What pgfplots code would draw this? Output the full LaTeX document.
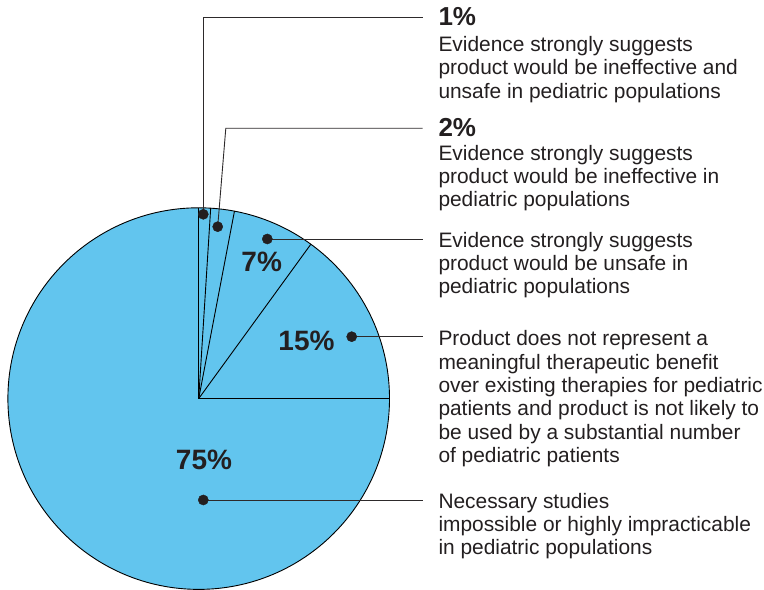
\documentclass[border=0pt]{standalone}
\usepackage{pgfplots}
\pgfplotsset{compat=1.18}
\usepackage{fontspec}
\setmainfont{Liberation Sans}
\definecolor{pieblue}{RGB}{98,197,238}
\definecolor{txt}{RGB}{35,31,32}
\definecolor{lead}{RGB}{45,42,43}
\newcommand{\tl}[3]{\node[anchor=base west,inner sep=0pt,text=txt,font=\fontsize{20.9bp}{23bp}\selectfont] at (axis cs:#1,#2) {#3};}
\newcommand{\hl}[3]{\node[anchor=base west,inner sep=0pt,text=txt,font=\fontsize{26bp}{28bp}\selectfont\bfseries] at (axis cs:#1,#2) {#3};}
\newcommand{\il}[3]{\node[anchor=base,inner sep=0pt,text=txt,font=\fontsize{28bp}{30bp}\selectfont\bfseries] at (axis cs:#1,#2) {#3};}
\begin{document}
\begin{tikzpicture}
\begin{axis}[
  width=764bp, height=590bp, scale only axis,
  xmin=0, xmax=764, ymin=0, ymax=590,
  hide axis, clip=false,
]
\path (rel axis cs:0,0) rectangle (rel axis cs:1,1);
% pie disk (centre 198.7,191.4; radius 190.8)
\draw[fill=pieblue, draw=black, line width=0.9bp] (axis cs:198.7,191.4) circle[radius=190.8];
% slice boundaries: cumulative shares 0, 1, 3, 10, 25 % clockwise from the top
\addplot[black, line width=0.9bp] coordinates {(198.7,382.2) (198.7,191.4) (389.5,191.4)};
\addplot[black, line width=0.9bp] coordinates {(198.7,191.4) (210.68,381.82)};
\addplot[black, line width=0.9bp] coordinates {(198.7,191.4) (234.45,378.82)};
\addplot[black, line width=0.9bp] coordinates {(198.7,191.4) (310.85,345.76)};
% leader lines
\addplot[lead, line width=0.9bp] coordinates {(203.3,375.7) (203.3,572.5) (422.7,572.5)};
\addplot[lead, line width=0.9bp] coordinates {(217.7,363.3) (225.8,461.7) (422.7,461.7)};
\addplot[lead, line width=0.9bp] coordinates {(267.3,351) (422.7,351)};
\addplot[lead, line width=0.9bp] coordinates {(351.7,253.3) (422.7,253.3)};
\addplot[lead, line width=0.9bp] coordinates {(203.3,90) (422.7,90)};
% dots
\addplot[only marks, mark=*, mark size=5.1pt, mark options={fill=txt, draw=txt}] coordinates {(203.3,375.7) (217.7,363.3) (267.3,351) (351.7,253.3) (203.3,90)};
% inner labels
\il{261.7}{318.3}{7\%}
\il{306.5}{239}{15\%}
\il{204}{120}{75\%}
% block 1
\hl{438.3}{564}{1\%}
\tl{438.3}{538.3}{Evidence strongly suggests}
\tl{438.3}{515}{product would be ineffective and}
\tl{438.3}{491.7}{unsafe in pediatric populations}
% block 2
\hl{438.3}{453.3}{2\%}
\tl{438.3}{429.3}{Evidence strongly suggests}
\tl{438.3}{406.7}{product would be ineffective in}
\tl{438.3}{383.3}{pediatric populations}
% block 3
\tl{438.3}{342.7}{Evidence strongly suggests}
\tl{438.3}{319.3}{product would be unsafe in}
\tl{438.3}{296}{pediatric populations}
% block 4
\tl{438.3}{244}{Product does not represent a}
\tl{438.3}{220.7}{meaningful therapeutic benefit}
\tl{438.3}{197.3}{over existing therapies for pediatric}
\tl{438.3}{174}{patients and product is not likely to}
\tl{438.3}{150.7}{be used by a substantial number}
\tl{438.3}{127.3}{of pediatric patients}
% block 5
\tl{438.3}{81.7}{Necessary studies}
\tl{438.3}{58.3}{impossible or highly impracticable}
\tl{438.3}{35}{in pediatric populations}
\end{axis}
\end{tikzpicture}
\end{document}
